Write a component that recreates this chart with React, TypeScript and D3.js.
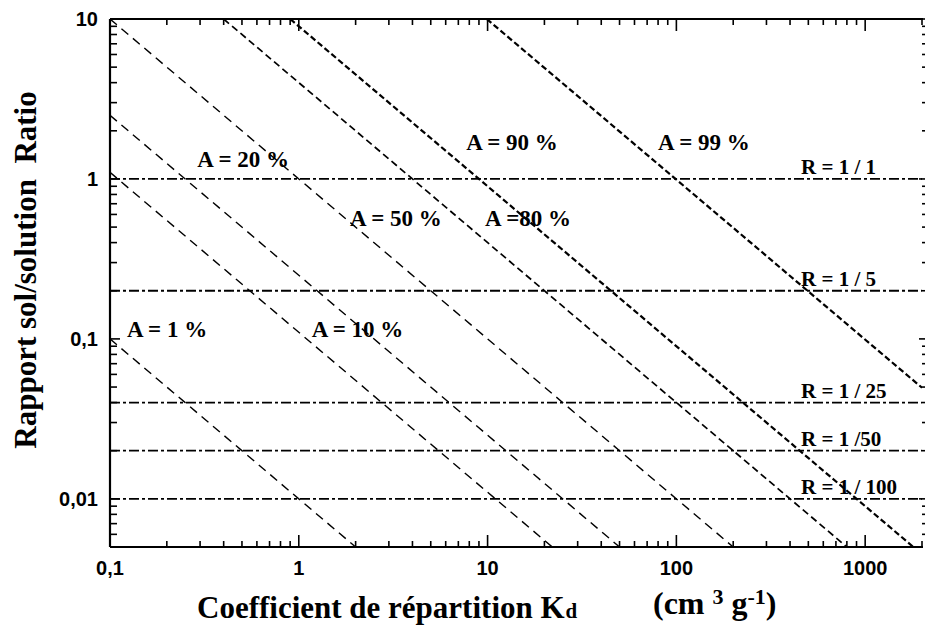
import React from "react";
import * as d3 from "d3";

// ---- data ----
const xTickValues = [0.1, 1, 10, 100, 1000];
const xTickLabels = ["0,1", "1", "10", "100", "1000"];
const yTickValues = [0.01, 0.1, 1, 10];
const yTickLabels = ["0,01", "0,1", "1", "10"];

// iso-adsorption lines: product Kd * R
const aNames = ["A = 1 %", "A = 10 %", "A = 20 %", "A = 50 %", "A =80 %", "A = 90 %", "A = 99 %"];
const aKdR = [0.01, 0.11, 0.25, 1, 4, 9, 99];

// soil/solution ratios
const rNames = ["R = 1 / 1", "R = 1 / 5", "R = 1 / 25", "R = 1 /50", "R = 1 / 100"];
const rValues = [1, 0.2, 0.04, 0.02, 0.01];

// label anchors (data coords: Kd, R)
const aLabelPos: [number, number][] = [
  [0.123, 0.103],
  [1.17, 0.103],
  [0.29, 1.19],
  [1.87, 0.508],
  [9.7, 0.508],
  [7.7, 1.52],
  [80, 1.52],
];

const W = 925;
const H = 629;
const X0 = 110, X1 = 922, Y0 = 547, Y1 = 19;

export default function App() {
  const x = d3.scaleLog().domain([0.1, 2000]).range([X0, X1]);
  const y = d3.scaleLog().domain([0.005, 10]).range([Y0, Y1]);

  const xMinor: number[] = [];
  [0.1, 1, 10, 100, 1000].forEach((d) => {
    for (let m = 2; m <= 9; m++) if (d * m <= 2000) xMinor.push(d * m);
  });
  const yMinor: number[] = [];
  [0.001, 0.01, 0.1, 1].forEach((d) => {
    for (let m = 2; m <= 9; m++) {
      const v = d * m;
      if (v > 0.005 && v < 10) yMinor.push(v);
    }
  });

  const styleFor = (i: number) => {
    if (i <= 3) return { w: 1.4, dash: "9,6" };
    if (i === 4) return { w: 1.7, dash: "7,4" };
    return { w: 2.2, dash: "6,3" };
  };

  const serif = "'Liberation Serif', 'Times New Roman', serif";
  const sans = "'Liberation Sans', Arial, sans-serif";

  return (
    <svg width={W} height={H} style={{ position: "absolute", left: 0, top: 0, background: "#fff" }}>
      <rect x={0} y={0} width={W} height={H} fill="#fff" />
      <defs>
        <clipPath id="plot">
          <rect x={X0} y={Y1} width={X1 - X0} height={Y0 - Y1} />
        </clipPath>
      </defs>

      {/* horizontal ratio lines */}
      {rValues.map((r, i) => (
        <line key={"r" + i} x1={X0} x2={X1} y1={y(r)} y2={y(r)} stroke="#000" strokeWidth={1.8} strokeDasharray="10,3,3,3" />
      ))}

      {/* diagonal iso-A lines */}
      <g clipPath="url(#plot)">
        {aKdR.map((p, i) => {
          const kx0 = Math.max(0.1, p / 10);
          const kx1 = Math.min(2000, p / 0.005);
          const s = styleFor(i);
          return (
            <line key={"a" + i} x1={x(kx0)} y1={y(p / kx0)} x2={x(kx1)} y2={y(p / kx1)} stroke="#000" strokeWidth={s.w} strokeDasharray={s.dash} />
          );
        })}
      </g>

      {/* axes frame */}
      <line x1={X0} x2={X0} y1={Y1} y2={Y0} stroke="#000" strokeWidth={2.2} />
      <line x1={X0} x2={X1 + 1} y1={Y0} y2={Y0} stroke="#000" strokeWidth={2.2} />
      <line x1={X0} x2={X1 + 1} y1={Y1} y2={Y1} stroke="#000" strokeWidth={2.2} />

      {/* x ticks */}
      {xTickValues.map((v) => (
        <g key={"xt" + v}>
          <line x1={x(v)} x2={x(v)} y1={Y0} y2={Y0 - 12} stroke="#000" strokeWidth={1.6} />
          <line x1={x(v)} x2={x(v)} y1={Y1} y2={Y1 + 12} stroke="#000" strokeWidth={1.6} />
        </g>
      ))}
      {xMinor.map((v) => (
        <g key={"xm" + v}>
          <line x1={x(v)} x2={x(v)} y1={Y0} y2={Y0 - 6} stroke="#000" strokeWidth={1.6} />
          <line x1={x(v)} x2={x(v)} y1={Y1} y2={Y1 + 6} stroke="#000" strokeWidth={1.6} />
        </g>
      ))}
      {/* y ticks */}
      {yTickValues.map((v) => (
        <g key={"yt" + v}>
          <line x1={X0} x2={X0 + 10} y1={y(v)} y2={y(v)} stroke="#000" strokeWidth={1.6} />
          <line x1={X1 + 3} x2={X1 - 3} y1={y(v)} y2={y(v)} stroke="#000" strokeWidth={1.6} />
        </g>
      ))}
      {yMinor.map((v) => (
        <g key={"ym" + v}>
          <line x1={X0} x2={X0 + 7} y1={y(v)} y2={y(v)} stroke="#000" strokeWidth={1.6} />
          <line x1={X1 + 3} x2={X1} y1={y(v)} y2={y(v)} stroke="#000" strokeWidth={1.6} />
        </g>
      ))}

      {/* tick labels */}
      {xTickValues.map((v, i) => (
        <text key={"xl" + v} x={x(v)} y={575} textAnchor="middle" fontFamily={sans} fontWeight="bold" fontSize={20}>
          {xTickLabels[i]}
        </text>
      ))}
      {yTickValues.map((v, i) => (
        <text key={"yl" + v} x={98} y={y(v) + 7} textAnchor="end" fontFamily={sans} fontWeight="bold" fontSize={20}>
          {yTickLabels[i]}
        </text>
      ))}

      {/* A labels */}
      {aNames.map((n, i) => (
        <text key={"an" + i} x={x(aLabelPos[i][0])} y={y(aLabelPos[i][1])} fontFamily={serif} fontWeight="bold" fontSize={23}
          style={{ whiteSpace: "pre" }}>
          {n}
        </text>
      ))}

      {/* R labels */}
      {rNames.map((n, i) => (
        <text key={"rn" + i} x={801} y={y(rValues[i]) - 5} fontFamily={serif} fontWeight="bold" fontSize={21}
          style={{ whiteSpace: "pre" }}>
          {n}
        </text>
      ))}

      {/* axis titles */}
      <text transform="translate(36,270) rotate(-90)" textAnchor="middle" fontFamily={serif} fontWeight="bold" fontSize={31} style={{ whiteSpace: "pre" }}>
        {"Rapport sol/solution  Ratio"}
      </text>
      <text x={197} y={618} fontFamily={serif} fontWeight="bold" fontSize={31}>
        Coefficient de répartition K
        <tspan fontSize={21} dx={1}>d</tspan>
      </text>
      <text x={653} y={614} fontFamily={serif} fontWeight="bold" fontSize={32}>
        (cm
        <tspan fontSize={22} dx={8} dy={-10}>3</tspan>
        <tspan dx={8} dy={10}>g</tspan>
        <tspan fontSize={22} dy={-10}>-1</tspan>
        <tspan dy={10}>)</tspan>
      </text>
    </svg>
  );
}
